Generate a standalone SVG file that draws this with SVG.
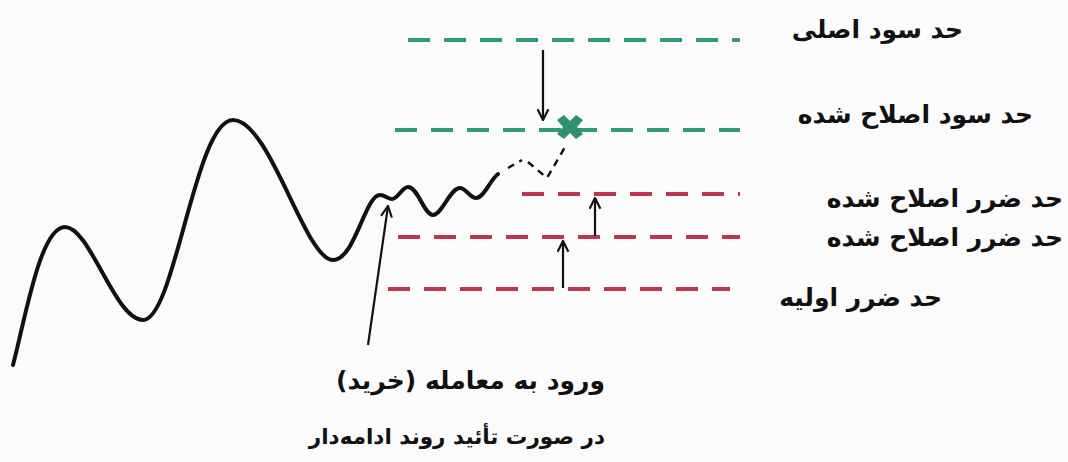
<svg xmlns="http://www.w3.org/2000/svg" width="1068" height="462" viewBox="0 0 1068 462">
<defs>
<style>
.g{stroke:#2f9a78;stroke-width:4;stroke-dasharray:22 14;fill:none}
.r{stroke:#c0344f;stroke-width:4;stroke-dasharray:22 14;fill:none}
.k{stroke:#111;stroke-width:2.2;fill:none}
.t{font-family:"DejaVu Sans",sans-serif;font-weight:bold;font-size:25px;fill:#111;direction:rtl}
</style>
<marker id="ah" viewBox="0 0 12 12" refX="11" refY="6" markerWidth="13" markerHeight="13" orient="auto-start-reverse" markerUnits="userSpaceOnUse">
<path d="M1,1 L11,6 L1,11" fill="none" stroke="#111" stroke-width="2"/>
</marker>
</defs>
<rect width="1068" height="462" fill="#fbfbfb"/>
<g id="levels">
<line id="tp-main" class="g" x1="408" y1="40" x2="740" y2="40"/>
<line id="tp-mod" class="g" x1="395" y1="130" x2="740" y2="130"/>
<line id="sl-mod1" class="r" x1="522" y1="194" x2="740" y2="194"/>
<line id="sl-mod2" class="r" x1="398" y1="237" x2="740" y2="237"/>
<line id="sl-init" class="r" x1="388" y1="289" x2="730" y2="289"/>
</g>
<g id="price">
<path d="M13,365 C25,320 40,227 65,227 C90,227 115,320 143,320 C175,320 195,120 233,120 C270,120 305,260 333,260 C355,260 365,195 380,195 C385,195 388,199 392,199 C398,199 402,187 408,187 C418,187 424,215 433,215 C442,215 450,188 460,188 C466,188 470,198 476,198 C484,198 490,180 498,174" fill="none" stroke="#111" stroke-width="4" stroke-linecap="round" stroke-linejoin="round"/>
<path d="M508,168 L522,160 M528,162 L547,178 L565,147" fill="none" stroke="#111" stroke-width="2.5" stroke-dasharray="7 6"/>
</g>
<g id="target-hit">
<path d="M570,130 m-13,-10 l7,-5 l6,6 l6,-6 l7,5 l-6,7 l6,7 l-7,5 l-6,-6 l-6,6 l-7,-5 l6,-7 z" fill="#2f8f6e"/>
</g>
<g id="connectors">
<line class="k" x1="543" y1="50" x2="543" y2="120" marker-end="url(#ah)"/>
<line class="k" x1="595" y1="236" x2="595" y2="198" marker-end="url(#ah)"/>
<line class="k" x1="563" y1="288" x2="563" y2="241" marker-end="url(#ah)"/>
<line class="k" x1="368" y1="345" x2="388" y2="206" marker-end="url(#ah)"/>
</g>
<g id="labels">
<text class="t" x="963" y="38" text-anchor="start">حد سود اصلی</text>
<text class="t" x="1033" y="123" text-anchor="start">حد سود اصلاح شده</text>
<text class="t" x="1063" y="207" text-anchor="start">حد ضرر اصلاح شده</text>
<text class="t" x="1063" y="246" text-anchor="start">حد ضرر اصلاح شده</text>
<text class="t" x="942" y="306" text-anchor="start">حد ضرر اولیه</text>
<text class="t" x="605" y="389" text-anchor="start">ورود به معامله (خرید)</text>
<text class="t" x="605" y="444" text-anchor="start" style="font-size:21.5px">در صورت  تأئید روند ادامه‌دار</text>
</g>
</svg>
